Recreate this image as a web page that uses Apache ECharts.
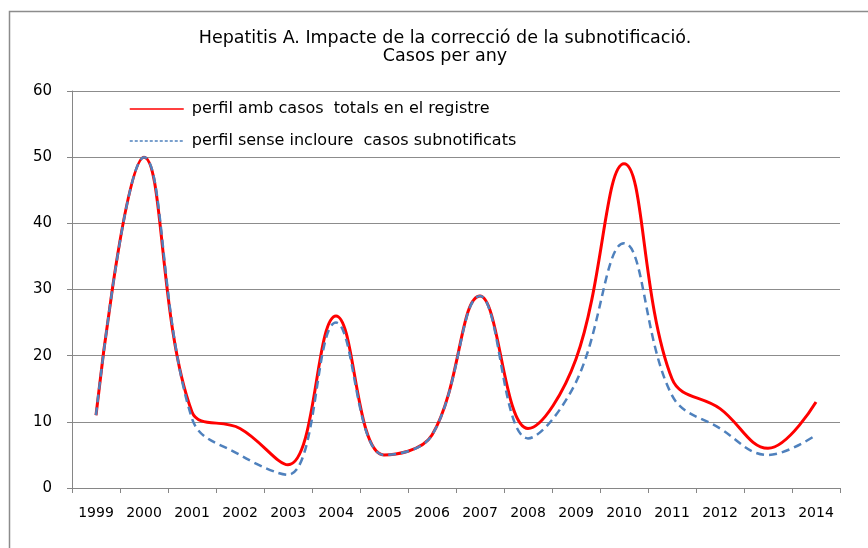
<!DOCTYPE html>
<html>
<head>
<meta charset="utf-8">
<script src="https://cdn.jsdelivr.net/npm/echarts@6/dist/echarts.min.js"></script>
<style>html,body{margin:0;padding:0;background:#fff}#c{width:868px;height:548px}</style>
</head>
<body>
<div id="c"></div>
<script>
var years = ['1999','2000','2001','2002','2003','2004','2005','2006','2007','2008','2009','2010','2011','2012','2013','2014'];
var totals = [11, 50, 11.5, 9, 3.5, 26, 5, 8, 29, 9, 19.5, 49, 16.5, 12, 6, 13];
var senseSub = [11, 50, 10.5, 5, 2, 25, 5, 8, 29, 7.5, 16, 37, 14, 9, 5, 8];
var yTicks = [0, 10, 20, 30, 40, 50, 60];
var nameTotals = 'perfil amb casos  totals en el registre';
var nameSense = 'perfil sense incloure  casos subnotificats';

var chart = echarts.init(document.getElementById('c'), null, {renderer:'canvas'});
var font = '"DejaVu Sans", "Liberation Sans", Arial, sans-serif';
chart.setOption({
  animation: false,
  backgroundColor: '#fff',
  graphic: [{
    type: 'rect', left: 7, top: 9, shape: {width: 900, height: 600},
    style: {fill: 'none', stroke: '#8c8c8c', lineWidth: 1.5}, silent: true
  }],
  title: {
    text: 'Hepatitis A. Impacte de la correcció de la subnotificació.\nCasos per any',
    left: 440, textAlign: 'center', top: 24,
    textStyle: {fontFamily: font, fontSize: 17.5, fontWeight: 'normal', color: '#000', lineHeight: 18}
  },
  legend: {
    orient: 'vertical', left: 124, top: 96, itemGap: 16, itemWidth: 54, itemHeight: 20,
    textStyle: {fontFamily: font, fontSize: 16, color: '#000', padding: [0,0,0,3]},
    itemStyle: {opacity: 0},
    data: [
      {name: nameTotals, lineStyle: {width: 1.5}},
      {name: nameSense, lineStyle: {width: 1.5, type: [3,2]}}
    ]
  },
  grid: {left: 72, right: 28, top: 91, bottom: 60},
  xAxis: {
    type: 'category', data: years, boundaryGap: true,
    axisLine: {lineStyle: {color: '#868686', width: 1}},
    axisTick: {show: true, length: 5, inside: false, alignWithLabel: false, lineStyle: {color: '#868686'}},
    axisLabel: {fontFamily: font, fontSize: 14, color: '#000', margin: 18, interval: 0}
  },
  yAxis: {
    type: 'value', min: 0, max: 60, interval: 10,
    axisLine: {show: true, lineStyle: {color: '#868686', width: 1}},
    axisTick: {show: true, length: 5, lineStyle: {color: '#868686'}},
    axisLabel: {fontFamily: font, fontSize: 15, color: '#000', margin: 20,
      formatter: function(v){ return yTicks.indexOf(v) >= 0 ? String(v) : ''; }},
    splitLine: {show: true, lineStyle: {color: '#8c8c8c', width: 1}}
  },
  series: [
    {name: nameTotals, type: 'line', data: totals, smooth: 0.4, symbol: 'none',
     lineStyle: {color: '#ff0000', width: 3}, itemStyle: {color: '#ff0000'}, z: 2},
    {name: nameSense, type: 'line', data: senseSub, smooth: 0.4, symbol: 'none',
     lineStyle: {color: '#4f81bd', width: 2.5, type: [8,5]}, itemStyle: {color: '#4f81bd'}, z: 3}
  ]
});
</script>
</body>
</html>
